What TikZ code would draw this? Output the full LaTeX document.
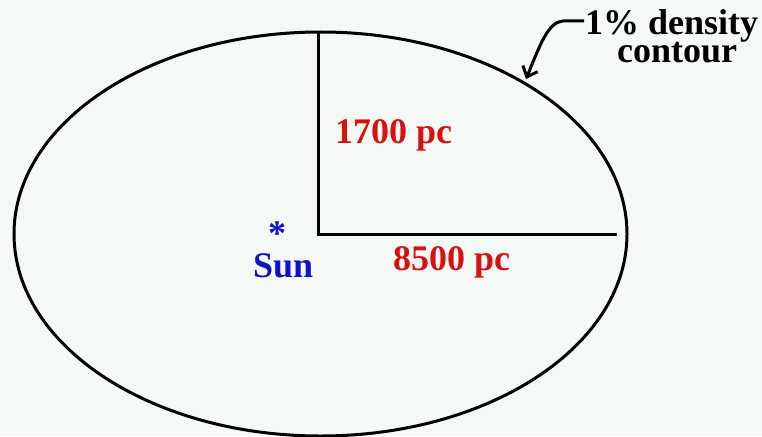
\documentclass[tikz,border=0pt]{standalone}
\usepackage{fontspec}
\setmainfont{Liberation Serif}
\usetikzlibrary{arrows.meta}
\definecolor{bgc}{HTML}{F4F9F6}
\definecolor{redc}{HTML}{D81010}
\definecolor{bluec}{HTML}{1010C8}
\tikzset{
  lbl/.style={inner sep=0pt, font=\fontsize{36}{40}\selectfont\bfseries},
  thick line/.style={line width=3pt, black},
}
\begin{document}
\begin{tikzpicture}[x=1pt,y=-1pt]
\fill[bgc] (0,0) rectangle (762,436);
\useasboundingbox (0,0) rectangle (762,436);
\draw[thick line] (320.5,234) ellipse [x radius=306.5, y radius=202];
\coordinate (top) at (318,32);
\coordinate (corner) at (318,234);
\coordinate (right) at (617,234);
\draw[thick line, line join=miter] (top) -- (corner) -- (right);
\node[lbl, text=redc, anchor=base west] (vert) at (335,143) {1700 pc};
\node[lbl, text=redc, anchor=base west] (horiz) at (393,270) {8500 pc};
\node[lbl, text=bluec, anchor=base] (star) at (277,245) {*};
\node[lbl, text=bluec, anchor=base west] (sun) at (253,277) {Sun};
\node[lbl, anchor=base west] (dens) at (585,35) {1\% density};
\node[lbl, anchor=base west] (cont) at (617,63) {contour};
\coordinate (dashstart) at (584,21);
\coordinate (bend) at (563,21);
\coordinate (tip) at (526,79);
\draw[thick line, -{Straight Barb[length=9pt,width=16pt]}] (dashstart) -- (bend) .. controls (548,22) and (540,45) .. (tip);
\end{tikzpicture}
\end{document}
